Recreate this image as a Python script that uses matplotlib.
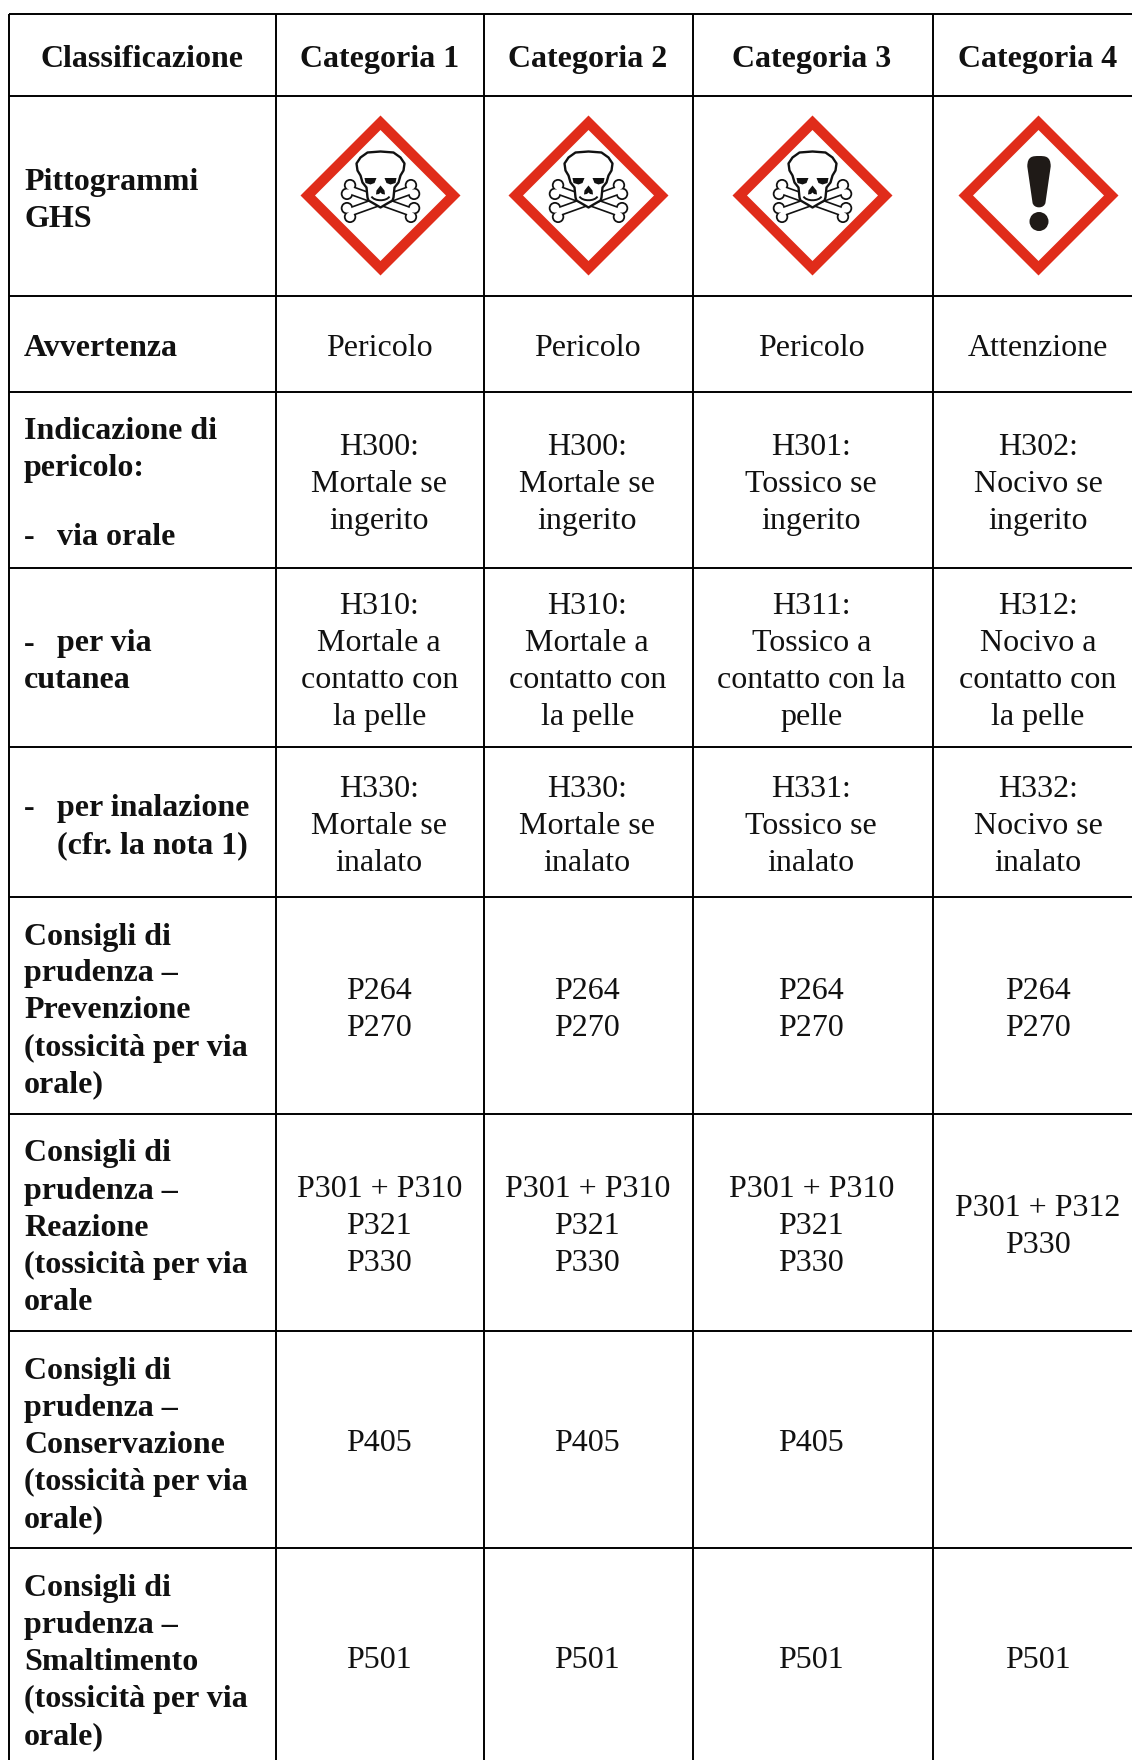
import numpy as np
import matplotlib
matplotlib.use('Agg')
import matplotlib.pyplot as plt
from matplotlib.patches import Polygon, Circle, PathPatch
from matplotlib.path import Path

plt.rcParams['font.family'] = ['Liberation Serif', 'DejaVu Serif']

# Table contents
headers = ['Classificazione', 'Categoria 1', 'Categoria 2', 'Categoria 3', 'Categoria 4']
pictograms = ['skull', 'skull', 'skull', 'exclamation']

row_labels = [
    ['Pittogrammi', 'GHS'],
    ['Avvertenza'],
    ['Indicazione di', 'pericolo:', '', '- via orale'],
    ['- per via', 'cutanea'],
    ['- per inalazione', '\t(cfr. la nota 1)'],
    ['Consigli di', 'prudenza –', 'Prevenzione', '(tossicità per via', 'orale)'],
    ['Consigli di', 'prudenza –', 'Reazione', '(tossicità per via', 'orale'],
    ['Consigli di', 'prudenza –', 'Conservazione', '(tossicità per via', 'orale)'],
    ['Consigli di', 'prudenza –', 'Smaltimento', '(tossicità per via', 'orale)'],
]

cat1 = [None, ['Pericolo'], ['H300:', 'Mortale se', 'ingerito'],
        ['H310:', 'Mortale a', 'contatto con', 'la pelle'],
        ['H330:', 'Mortale se', 'inalato'], ['P264', 'P270'],
        ['P301 + P310', 'P321', 'P330'], ['P405'], ['P501']]
cat2 = cat1
cat3 = [None, ['Pericolo'], ['H301:', 'Tossico se', 'ingerito'],
        ['H311:', 'Tossico a', 'contatto con la', 'pelle'],
        ['H331:', 'Tossico se', 'inalato'], ['P264', 'P270'],
        ['P301 + P310', 'P321', 'P330'], ['P405'], ['P501']]
cat4 = [None, ['Attenzione'], ['H302:', 'Nocivo se', 'ingerito'],
        ['H312:', 'Nocivo a', 'contatto con', 'la pelle'],
        ['H332:', 'Nocivo se', 'inalato'], ['P264', 'P270'],
        ['P301 + P312', 'P330'], [], ['P501']]
columns = [cat1, cat2, cat3, cat4]

# Layout in pixels
W, H = 1132, 1760
col_edges = [9, 275.5, 483.5, 692.5, 932.5]
# the last row runs past the bottom of the image
row_edges = [14, 96, 296.5, 392, 568.5, 747.5, 897, 1114, 1331, 1548.5, 1765]
col_centers = [142.5, 379.3, 587.3, 811.3, 1038]
icon_centers = [380.5, 588.5, 812.5, 1038.5]
icon_y = 195.5
left_x = 24
indent_x = 57
line_step = 37
fs = 23
ink = '#111111'

fig = plt.figure(figsize=(W / 100, H / 100), dpi=100)
ax = fig.add_axes([0, 0, 1, 1])
ax.set_xlim(0, W)
ax.set_ylim(H, 0)
ax.axis('off')

# Grid lines
for x in col_edges:
    ax.plot([x, x], [row_edges[0], H], color='black', lw=1.4, solid_capstyle='butt')
for y in row_edges[:-1]:
    ax.plot([col_edges[0], W], [y, y], color='black', lw=1.4, solid_capstyle='butt')


def draw_bone(cx, cy, x0, y0, x1, y1):
    # outline first, then a white core on top
    ux, uy = x1 - x0, y1 - y0
    n = np.hypot(ux, uy)
    px, py = -uy / n * 4.6, ux / n * 4.6
    ends = [(x0, y0), (x1, y1)]
    for color, w, r in [('#111111', 7.0, 6.2), ('white', 4.6, 4.4)]:
        ax.plot([cx + x0, cx + x1], [cy + y0, cy + y1], color=color, lw=w,
                solid_capstyle='butt', zorder=3)
        for ex, ey in ends:
            for s in (-1, 1):
                ax.add_patch(Circle((cx + ex + s * px, cy + ey + s * py), r,
                                    fc=color, ec='none', zorder=3))


def draw_skull(cx, cy):
    draw_bone(cx, cy, -32, -6, 32, 17)
    draw_bone(cx, cy, 32, -6, -32, 17)
    # skull outline, offsets from the diamond centre
    verts = [(0, -44), (-13, -43), (-20, -38), (-24, -32), (-23, -25), (-20, -20),
             (-18, -13), (-14, -8), (-13, 2), (-12, 5), (-5, 9), (0, 12), (5, 9),
             (12, 5), (13, 2), (14, -8), (18, -13), (20, -20), (23, -25), (24, -32),
             (20, -38), (13, -43)]
    xs = [cx + v[0] for v in verts]
    ys = [cy + v[1] for v in verts]
    ax.add_patch(Polygon(np.column_stack([xs, ys]), closed=True, fc='white', ec='#111111',
                         lw=1.7, joinstyle='round', zorder=4))
    # eyes
    for s in (-1, 1):
        eye = [(s * 4, -17.5), (s * 16, -17.5), (s * 15, -12.5), (s * 10, -11), (s * 6, -12.5)]
        ax.add_patch(Polygon([(cx + a, cy + b) for a, b in eye], closed=True,
                             fc='#111111', ec='none', zorder=5))
    # nose
    nose = [(0, -10), (4, -5), (4.5, -1), (1.5, -1.5), (0, -3), (-1.5, -1.5), (-4.5, -1), (-4, -5)]
    ax.add_patch(Polygon([(cx + a, cy + b) for a, b in nose], closed=True,
                         fc='#111111', ec='none', zorder=5))
    # jaw line
    t = Path([(cx - 9, cy + 1), (cx - 6, cy + 6), (cx + 6, cy + 6), (cx + 9, cy + 1)],
             [Path.MOVETO, Path.CURVE4, Path.CURVE4, Path.CURVE4])
    ax.add_patch(PathPatch(t, fc='none', ec='#111111', lw=1.4, zorder=5))


def draw_exclamation(cx, cy):
    body = Path([(cx - 11.7, cy - 29), (cx - 11.7, cy - 39.5), (cx - 6, cy - 39.5), (cx, cy - 39.5),
                 (cx + 6, cy - 39.5), (cx + 11.7, cy - 39.5), (cx + 11.7, cy - 29),
                 (cx + 6.5, cy + 7), (cx + 5.5, cy + 13.5), (cx - 5.5, cy + 13.5), (cx - 6.5, cy + 7),
                 (cx - 11.7, cy - 29)],
                [Path.MOVETO, Path.CURVE4, Path.CURVE4, Path.CURVE4,
                 Path.CURVE4, Path.CURVE4, Path.CURVE4,
                 Path.LINETO, Path.CURVE4, Path.CURVE4, Path.CURVE4, Path.CLOSEPOLY])
    ax.add_patch(PathPatch(body, fc='#1f1a17', ec='none', zorder=4))
    ax.add_patch(Circle((cx, cy + 26), 9.5, fc='#1f1a17', ec='none', zorder=4))


def draw_diamond(cx, cy, kind):
    outer = 80
    inner = 65.5
    ax.add_patch(Polygon([(cx, cy - outer), (cx + outer, cy), (cx, cy + outer), (cx - outer, cy)],
                         closed=True, fc='#e02c1a', ec='none', zorder=2))
    ax.add_patch(Polygon([(cx, cy - inner), (cx + inner, cy), (cx, cy + inner), (cx - inner, cy)],
                         closed=True, fc='white', ec='none', zorder=2))
    if kind == 'skull':
        draw_skull(cx, cy)
    else:
        draw_exclamation(cx + 0.5, cy)


def row_center(i):
    # row 0 of the labels is the pictogram row, under the header
    return (row_edges[i + 1] + row_edges[i + 2]) / 2


# Header row
header_y = (row_edges[0] + row_edges[1]) / 2 + 1
for x, label in zip(col_centers, headers):
    ax.text(x, header_y, label, ha='center', va='center_baseline', fontsize=fs,
            fontweight='bold', color=ink)

# Left column
for i, lines in enumerate(row_labels):
    yc = row_center(i) + (2 if len(lines) == 5 else 1)
    for k, line in enumerate(lines):
        y = yc + (k - (len(lines) - 1) / 2) * line_step
        # the blank line in "Indicazione" is a bit narrower than the others
        if lines[0].startswith('Indicazione'):
            y = [428, 465, 0, 534][k]
        if line == '':
            continue
        if line.startswith('- '):
            ax.text(left_x, y, '-', ha='left', va='center_baseline', fontsize=fs,
                    fontweight='bold', color=ink)
            ax.text(indent_x, y, line[2:], ha='left', va='center_baseline', fontsize=fs,
                    fontweight='bold', color=ink)
        elif line.startswith('\t'):
            ax.text(indent_x, y, line[1:], ha='left', va='center_baseline', fontsize=fs,
                    fontweight='bold', color=ink)
        else:
            ax.text(left_x, y, line, ha='left', va='center_baseline', fontsize=fs,
                    fontweight='bold', color=ink)

# Category columns
for c, cells in enumerate(columns):
    draw_diamond(icon_centers[c], icon_y, pictograms[c])
    for i, lines in enumerate(cells):
        if not lines:
            continue
        yc = row_center(i) + 0.7
        for k, line in enumerate(lines):
            ax.text(col_centers[c + 1], yc + (k - (len(lines) - 1) / 2) * line_step, line,
                    ha='center', va='center_baseline', fontsize=fs, color=ink)

fig.savefig('out.png', dpi=100, facecolor='white')
